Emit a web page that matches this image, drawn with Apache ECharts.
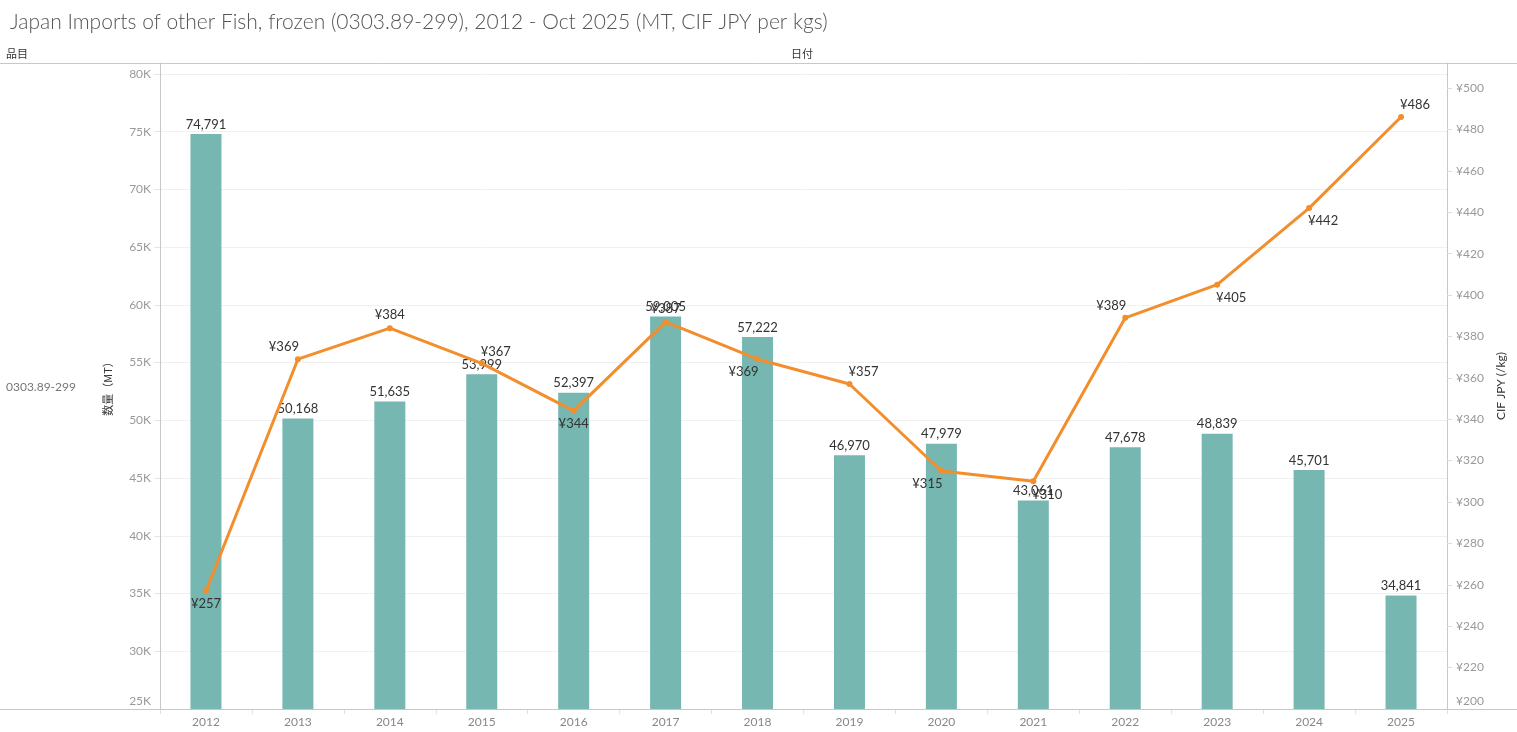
<!DOCTYPE html>
<html>
<head>
<meta charset="utf-8">
<script src="https://cdn.jsdelivr.net/npm/echarts@6/dist/echarts.min.js"></script>
<style>
html,body{margin:0;padding:0;background:#fff;}
#chart{width:1517px;height:732px;}
</style>
</head>
<body>
<div id="chart"></div>
<script>
var years = ['2012','2013','2014','2015','2016','2017','2018','2019','2020','2021','2022','2023','2024','2025'];
var volumeMT = [74791, 50168, 51635, 53999, 52397, 59005, 57222, 46970, 47979, 43061, 47678, 48839, 45701, 34841];
var priceJPY = [257, 369, 384, 367, 344, 387, 369, 357, 315, 310, 389, 405, 442, 486];
// axis tick label settings: min, step, last labelled tick
var volumeTickMin = 25000, volumeTickStep = 5000, volumeTickLast = 80000;
var priceTickMin = 200, priceTickStep = 20, priceTickLast = 500;
// label placement for each price point (style only)
var priceLabelPlace = ['b','tl','t','tr','b','t','bl','tr','bl','br','tl','br','br','tr'];

var placeOffset = {
  b: [0, 13], t: [0, -13], tl: [-14, -12], tr: [14, -12], bl: [-14, 13], br: [14, 13]
};

var FONT = 'Lato, "Open Sans", sans-serif';
var chart = echarts.init(document.getElementById('chart'), null, {renderer: 'canvas'});

var priceData = priceJPY.map(function (v, i) {
  return { value: v, label: { offset: placeOffset[priceLabelPlace[i]] } };
});

function tickFmt(min, step, last, fmt) {
  return function (v) {
    if (v > last + 1e-6 || Math.abs((v - min) / step - Math.round((v - min) / step)) > 1e-6) return '';
    var t = fmt(v);
    return Math.abs(v - min) < 1e-6 ? '{lo|' + t + '}' : t;
  };
}
var axisLabelRich = { lo: { padding: [0, 0, 16, 0], color: '#999', fontSize: 12, fontFamily: FONT } };

var option = {
  animation: false,
  textStyle: { fontFamily: FONT },
  title: {
    text: 'Japan Imports of other Fish, frozen (0303.89-299), 2012 - Oct 2025 (MT, CIF JPY per kgs)',
    left: 5, top: 7,
    textStyle: { fontFamily: FONT, fontSize: 21, fontWeight: 300, color: '#555' }
  },
  graphic: [
    { type: 'line', shape: { x1: 0, y1: 63.5, x2: 1517, y2: 63.5 }, style: { stroke: '#c8c8c8', lineWidth: 1 }, z: 10 },
    { type: 'line', shape: { x1: 0, y1: 709.5, x2: 1517, y2: 709.5 }, style: { stroke: '#c8c8c8', lineWidth: 1 }, z: 10 },
    { type: 'text', left: 6, top: 48, style: { text: '品目', font: '11px "Noto Sans CJK JP", sans-serif', fill: '#333' } },
    { type: 'text', left: 791, top: 48, style: { text: '日付', font: '11px "Noto Sans CJK JP", sans-serif', fill: '#333' } },
    { type: 'text', left: 6, top: 381, style: { text: '0303.89-299', font: '12px ' + FONT, fill: '#777' } }
  ],
  grid: [
    { left: 160, right: 70, top: 63, bottom: 23, containLabel: false }
  ],
  xAxis: [
    {
      type: 'category', data: years,
      axisLine: { show: true, lineStyle: { color: '#c8c8c8' } },
      axisTick: { show: true, length: 5, lineStyle: { color: '#e2e2e2' } },
      axisLabel: { color: '#888', fontSize: 12, margin: 7, fontFamily: FONT },
      splitLine: { show: false }
    }
  ],
  yAxis: [
    {
      type: 'value', position: 'left',
      min: volumeTickMin, max: 80950, interval: volumeTickStep,
      name: '数量（MT）', nameLocation: 'middle', nameRotate: 90, nameGap: 47,
      nameTextStyle: { color: '#333', fontSize: 11, fontFamily: '"Noto Sans CJK JP", sans-serif' },
      axisLine: { show: true, lineStyle: { color: '#c8c8c8' } },
      axisTick: { show: true, length: 6, lineStyle: { color: '#e6e6e6' } },
      axisLabel: {
        color: '#999', fontSize: 12, margin: 9, fontFamily: FONT, showMaxLabel: false,
        formatter: tickFmt(volumeTickMin, volumeTickStep, volumeTickLast, function (v) { return (v / 1000) + 'K'; }),
        rich: axisLabelRich
      },
      splitLine: { show: true, lineStyle: { color: '#f0f0f0', width: 1 } }
    },
    {
      type: 'value', position: 'right',
      min: priceTickMin, max: 512.1, interval: priceTickStep,
      name: 'CIF JPY (/kg)', nameLocation: 'middle', nameRotate: 90, nameGap: 47,
      nameTextStyle: { color: '#333', fontSize: 12, fontFamily: FONT },
      axisLine: { show: true, lineStyle: { color: '#c8c8c8' } },
      axisTick: { show: true, length: 5, lineStyle: { color: '#ddd' } },
      axisLabel: {
        color: '#999', fontSize: 12, margin: 9, fontFamily: FONT, showMaxLabel: false,
        formatter: tickFmt(priceTickMin, priceTickStep, priceTickLast, function (v) { return '¥' + v; }),
        rich: axisLabelRich
      },
      splitLine: { show: false }
    }
  ],
  series: [
    {
      name: '数量', type: 'bar', yAxisIndex: 0,
      data: volumeMT, barWidth: 31,
      itemStyle: { color: '#76b7b2' },
      label: {
        show: true, position: 'top', distance: 3, color: '#333', fontSize: 13, fontFamily: FONT,
        formatter: function (p) { return p.value.toLocaleString('en-US'); }
      },
      z: 2
    },
    {
      name: 'CIF', type: 'line', yAxisIndex: 1,
      data: priceData,
      symbol: 'circle', symbolSize: 6,
      lineStyle: { color: '#f28e2b', width: 3 },
      itemStyle: { color: '#f28e2b' },
      label: {
        show: true, position: 'inside', color: '#333', fontSize: 13, fontFamily: FONT,
        formatter: function (p) { return '¥' + p.value; }
      },
      z: 3
    }
  ]
};
chart.setOption(option);
</script>
</body>
</html>
